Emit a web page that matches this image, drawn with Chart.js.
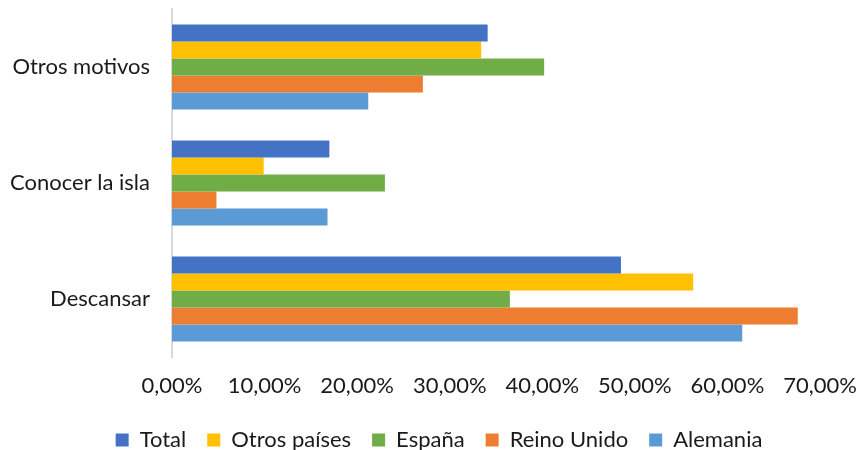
<!DOCTYPE html>
<html>
<head>
<meta charset="utf-8">
<script src="https://cdn.jsdelivr.net/npm/chart.js@4"></script>
<style>
  html, body { margin: 0; padding: 0; background: #fff; }
  #wrap { width: 857px; height: 450px; }
</style>
</head>
<body>
<div id="wrap"><canvas id="motivosChart"></canvas></div>
<script>
const categories = ['Otros motivos', 'Conocer la isla', 'Descansar'];
const total = [34.1, 17.0, 48.5];
const otrosPaises = [33.4, 9.9, 56.3];
const espana = [40.2, 23.0, 36.5];
const reinoUnido = [27.1, 4.8, 67.6];
const alemania = [21.2, 16.8, 61.6];
const xTicks = [0, 10, 20, 30, 40, 50, 60, 70];

// legend box is taller than needed with a wide item padding, pull it down a bit,
// and nudge the row to the right like in the original
const legendTweak = {
    id: 'legendTweak',
    beforeInit(chart) {
        const fit = chart.legend.fit;
        chart.legend.fit = function () {
            fit.call(this);
            this.height -= 11;
            if (this.lineWidths) this.lineWidths[0] -= 58;
        };
    }
};

// scales should not push the plot area in, the layout padding handles it
const noScalePadding = (scale) => {
    scale.paddingTop = 0;
    scale.paddingBottom = 0;
    scale.paddingLeft = 0;
    scale.paddingRight = 0;
};

document.addEventListener("DOMContentLoaded", function () {
    const ctx = document.getElementById('motivosChart').getContext('2d');
    const font = "Lato, 'Open Sans', sans-serif";

    const makeSet = (label, data, color) => ({
        label: label,
        data: data,
        backgroundColor: color,
        borderWidth: 0,
        categoryPercentage: 0.733,
        barPercentage: 1
    });

    new Chart(ctx, {
        type: 'bar',
        data: {
            labels: categories,
            datasets: [
                makeSet('Total', total, '#4472C4'),
                makeSet('Otros países', otrosPaises, '#FFC000'),
                makeSet('España', espana, '#70AD47'),
                makeSet('Reino Unido', reinoUnido, '#ED7D31'),
                makeSet('Alemania', alemania, '#5B9BD5')
            ]
        },
        plugins: [legendTweak],
        options: {
            indexAxis: 'y',
            responsive: true,
            maintainAspectRatio: false,
            animation: false,
            layout: {
                autoPadding: false,
                padding: { top: 9, right: 37, left: 0, bottom: 0 }
            },
            scales: {
                x: {
                    min: xTicks[0],
                    max: xTicks[xTicks.length - 1],
                    grid: { display: false, drawTicks: false },
                    border: { display: false },
                    afterBuildTicks: (scale) => {
                        scale.ticks = xTicks.map(v => ({ value: v }));
                    },
                    afterFit: (scale) => {
                        noScalePadding(scale);
                        scale.height = 51;
                    },
                    ticks: {
                        padding: 16,
                        maxRotation: 0,
                        color: '#1a1a1a',
                        font: { family: font, size: 22 },
                        callback: (v) => Number(v).toFixed(2).replace('.', ',') + '%'
                    }
                },
                y: {
                    grid: { display: false, drawTicks: false },
                    border: { display: true, color: '#d9d9d9', width: 2 },
                    afterFit: (scale) => {
                        noScalePadding(scale);
                        scale.width = 172;
                    },
                    ticks: {
                        padding: 22,
                        color: '#1a1a1a',
                        font: { family: font, size: 22 }
                    }
                }
            },
            plugins: {
                legend: {
                    position: 'bottom',
                    labels: {
                        boxWidth: 13,
                        boxHeight: 13,
                        padding: 21,
                        color: '#1a1a1a',
                        font: { family: font, size: 22 }
                    }
                },
                tooltip: { enabled: false }
            }
        }
    });
});
</script>
</body>
</html>
